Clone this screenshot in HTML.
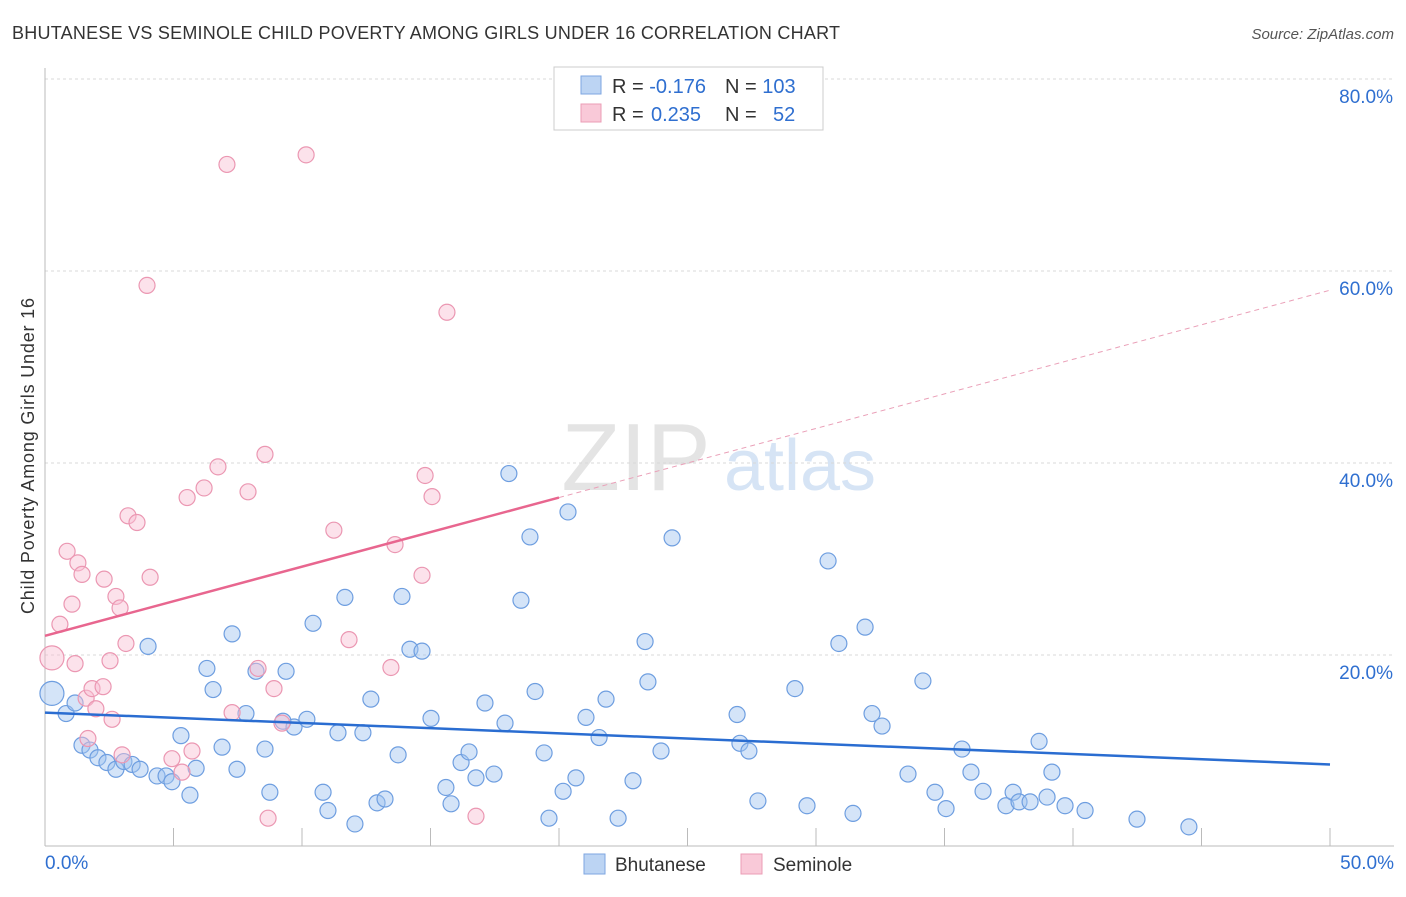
<!DOCTYPE html>
<html><head><meta charset="utf-8">
<style>
body{margin:0;background:#fff;font-family:"Liberation Sans",sans-serif;}
svg text{font-family:"Liberation Sans",sans-serif;}
</style></head>
<body>
<svg id="chart" width="1406" height="892" xmlns="http://www.w3.org/2000/svg">
<text x="12" y="39" font-size="18" fill="#333" textLength="828">BHUTANESE VS SEMINOLE CHILD POVERTY AMONG GIRLS UNDER 16 CORRELATION CHART</text>
<text x="1394" y="39" font-size="15" fill="#555" font-style="italic" text-anchor="end">Source: ZipAtlas.com</text>
<text x="636" y="490" font-size="96" fill="#e4e4e4" font-family="Liberation Serif" text-anchor="middle">ZIP</text>
<text x="800" y="490" font-size="72" fill="#d6e4f5" text-anchor="middle">atlas</text>
<g id="grid"></g>
<g id="axes"></g>
<text x="34" y="456" font-size="18" fill="#333" text-anchor="middle" textLength="316" transform="rotate(-90 34 456)">Child Poverty Among Girls Under 16</text>
<g id="marks"></g>
<g>
<rect x="554" y="67" width="269" height="63" fill="#fff" stroke="#ccc"/>
<rect x="581" y="76" width="20" height="18" fill="#bcd4f3" stroke="#7ea6e0"/>
<rect x="581" y="104" width="20" height="18" fill="#f9c9d8" stroke="#eb9db6"/>
<text x="612" y="93" font-size="20" fill="#333">R = <tspan fill="#2f6fd0">-0.176</tspan></text>
<text x="725" y="93" font-size="20" fill="#333">N = <tspan fill="#2f6fd0">103</tspan></text>
<text x="612" y="121" font-size="20" fill="#333">R = <tspan fill="#2f6fd0" x="651">0.235</tspan></text>
<text x="725" y="121" font-size="20" fill="#333">N = <tspan fill="#2f6fd0" x="773">52</tspan></text>
</g>
<g>
<rect x="584" y="854" width="21" height="20" fill="#bcd4f3" stroke="#7ea6e0"/>
<text x="615" y="871" font-size="19" fill="#333">Bhutanese</text>
<rect x="741" y="854" width="21" height="20" fill="#f9c9d8" stroke="#eb9db6"/>
<text x="773" y="871" font-size="19" fill="#333">Seminole</text>
</g>
</svg>
<script>
const xTicks=[0,5,10,15,20,25,30,35,40,45,50];
const yTicks=[20,40,60,80];
const yTickLabels=["20.0%","40.0%","60.0%","80.0%"];
const bhutX=[0.27,0.82,1.17,1.44,1.75,2.06,2.41,2.76,3.07,3.39,3.70,4.01,4.36,4.71,4.94,5.29,5.64,5.88,6.30,6.54,6.89,7.28,7.47,7.82,8.21,8.56,8.75,9.26,9.38,9.69,10.19,10.43,10.82,11.01,11.40,11.67,12.06,12.37,12.68,12.92,13.23,13.74,13.89,14.20,14.67,15.02,15.60,15.80,16.19,16.50,16.77,17.12,17.47,17.90,18.05,18.52,18.87,19.07,19.42,19.61,20.16,20.35,20.66,21.05,21.56,21.83,22.30,22.88,23.35,23.46,23.97,24.40,26.93,27.04,27.39,27.74,29.18,29.65,30.47,30.89,31.44,31.91,32.18,32.57,33.58,34.16,34.63,35.06,35.68,36.03,36.50,37.39,37.67,37.90,38.33,38.68,38.99,39.18,39.69,40.47,42.49,44.51];
const bhutY=[16.0,13.9,15.0,10.6,10.1,9.3,8.8,8.1,8.9,8.6,8.1,20.9,7.4,7.4,6.8,11.6,5.4,8.2,18.6,16.4,10.4,22.2,8.1,13.9,18.3,10.2,5.7,13.1,18.3,12.5,13.3,23.3,5.7,3.8,11.9,26.0,2.4,11.9,15.4,4.6,5.0,9.6,26.1,20.6,20.4,13.4,6.2,4.5,8.8,9.9,7.2,15.0,7.6,12.9,38.9,25.7,32.3,16.2,9.8,3.0,5.8,34.9,7.2,13.5,11.4,15.4,3.0,6.9,21.4,17.2,10.0,32.2,13.8,10.8,10.0,4.8,16.5,4.3,29.8,21.2,3.5,22.9,13.9,12.6,7.6,17.3,5.7,4.0,10.2,7.8,5.8,4.3,5.7,4.7,4.7,11.0,5.2,7.8,4.3,3.8,2.9,2.1];
const semX=[0.27,0.58,0.86,1.05,1.17,1.28,1.44,1.60,1.67,1.83,1.98,2.26,2.30,2.53,2.61,2.76,2.92,3.00,3.15,3.23,3.58,4.09,3.97,4.94,5.33,5.53,5.72,6.19,6.73,7.08,7.28,7.90,8.29,8.56,8.68,8.91,9.22,10.16,11.24,11.83,13.46,13.62,14.67,14.79,15.06,15.64,16.77];
const semY=[19.7,23.2,30.8,25.3,19.1,29.6,28.4,15.5,11.3,16.5,14.4,16.7,27.9,19.4,13.3,26.1,24.9,9.6,21.2,34.5,33.8,28.1,58.5,9.2,7.8,36.4,10.0,37.4,39.6,71.1,14.0,37.0,18.6,40.9,3.0,16.5,12.9,72.1,33.0,21.6,18.7,31.5,28.3,38.7,36.5,55.7,3.2];
const bhutLine=[14.0,8.6], semLine=[22.0,58.0];
const X=v=>45+v/50*1285, Y=v=>847-v/20*192;
const NS="http://www.w3.org/2000/svg";
function mk(t,a,p){const e=document.createElementNS(NS,t);for(const k in a)e.setAttribute(k,a[k]);p.appendChild(e);return e;}
const grid=document.getElementById('grid'),axes=document.getElementById('axes'),marks=document.getElementById('marks');
yTicks.forEach((v,i)=>{
 const l=mk('line',{x1:45,x2:1394,y1:Y(v),y2:Y(v),stroke:'#d8d8d8','stroke-dasharray':'3,3'},grid);
 
 
 const t=mk('text',{x:1393,y:Y(v)+24,'font-size':19,fill:'#2f6fd0','text-anchor':'end'},axes);
 t.textContent=yTickLabels[i];
 
 
});
const ax=mk('line',{x1:45,x2:45,y1:68,y2:846,stroke:'#bbb'},axes);


const bx=mk('line',{x1:45,x2:1394,y1:846,y2:846,stroke:'#bbb'},axes);


xTicks.forEach(v=>{
 if(v===0)return;
 const l=mk('line',{x1:X(v),x2:X(v),y1:828,y2:846,stroke:'#bbb'},axes);
 
 
});
[[0,'0.0%','start',45],[50,'50.0%','end',1394]].forEach(d=>{
 const t=mk('text',{x:d[3],y:869,'font-size':19,fill:'#2f6fd0','text-anchor':d[2]},axes);
 t.textContent=d[1];
 
 
});
bhutX.forEach((x,i)=>{
 const c=mk('circle',{cx:X(x),cy:Y(bhutY[i]),r:i===0?12:8,fill:'rgba(160,195,240,0.45)',stroke:'#6e9ee0','stroke-width':1.2},marks);
 
 
});
semX.forEach((x,i)=>{
 const c=mk('circle',{cx:X(x),cy:Y(semY[i]),r:i===0?12:8,fill:'rgba(248,190,210,0.45)',stroke:'#eb97b2','stroke-width':1.2},marks);
 
 
});
const bl=mk('line',{x1:X(0),y1:Y(bhutLine[0]),x2:X(50),y2:Y(bhutLine[1]),stroke:'#2a6dd1','stroke-width':2.5},marks);


const sy=x=>semLine[0]+(semLine[1]-semLine[0])*x/50;
const sl=mk('line',{x1:X(0),y1:Y(sy(0)),x2:X(20),y2:Y(sy(20)),stroke:'#e8668f','stroke-width':2.5},marks);


const sd=mk('line',{x1:X(20),y1:Y(sy(20)),x2:X(50),y2:Y(sy(50)),stroke:'#eaa0b8','stroke-width':1,'stroke-dasharray':'5,4'},marks);


</script>
</body></html>
